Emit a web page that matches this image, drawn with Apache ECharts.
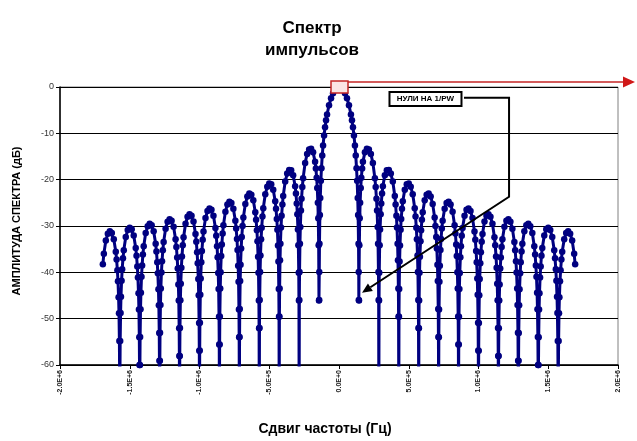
<!DOCTYPE html>
<html>
<head>
<meta charset="utf-8">
<script src="https://cdn.jsdelivr.net/npm/echarts@6/dist/echarts.min.js"></script>
<style>
html,body{margin:0;padding:0;background:#fff;}
#main{width:637px;height:441px;}
</style>
</head>
<body>
<div id="main"></div>
<script>
// ---- data ----
const xTickLabels = ['-2.0E+6','-1.5E+6','-1.0E+6','-5.0E+5','0.0E+0','5.0E+5','1.0E+6','1.5E+6','2.0E+6'];
const yTickLabels = ['-60','-50','-40','-30','-20','-10','0'];

// right half (0 Hz outward), frequency in kHz
const rightFreqKHz = [
0, 14.3, 28.6, 42.9, 57.1, 71.4, 85.7, 92.9, 100, 107.1, 114.3, 120, 125.7, 130, 134.3, 137.1, 140, 141.4, 142.1,
143.6, 145.8, 148.6, 151.5, 155.8, 160, 165.8, 171.5, 185.8, 200, 214.3, 228.6, 242.9, 257.2, 262.9, 268.6, 272.9, 277.2, 280, 282.9, 284.3, 285.7,
287.1, 288.6, 291.4, 294.3, 298.6, 302.8, 308.6, 314.3, 328.6, 342.8, 357.1, 371.4, 385.7, 400, 405.7, 411.4, 415.7, 420, 422.8, 425.7, 427.1, 428.6,
430, 431.5, 434.3, 437.2, 441.5, 445.7, 451.5, 457.2, 471.5, 485.7, 500, 514.3, 528.6, 542.9, 548.6, 554.3, 558.6, 562.9, 565.7, 568.6, 570, 571.4,
572.8, 574.3, 577.1, 580, 584.3, 588.5, 594.3, 600, 614.3, 628.5, 642.8, 657.1, 671.4, 685.7, 691.4, 697.1, 701.4, 705.7, 708.5, 711.4, 712.8, 714.3,
715.7, 717.2, 720, 722.9, 727.2, 731.4, 737.2, 742.9, 757.2, 771.4, 785.7, 800, 814.3, 828.6, 834.3, 840, 844.3, 848.6, 851.4, 854.3, 855.7, 857.1,
858.5, 860, 862.8, 865.7, 870, 874.2, 880, 885.7, 900, 914.2, 928.5, 942.8, 957.1, 971.4, 977.1, 982.8, 987.1, 991.4, 994.2, 997.1, 998.5, 1000,
1001.4, 1002.9, 1005.7, 1008.6, 1012.9, 1017.1, 1022.9, 1028.6, 1042.9, 1057.1, 1071.4, 1085.7, 1100, 1114.3, 1120, 1125.7, 1130, 1134.3, 1137.1, 1140, 1141.4, 1142.9,
1144.3, 1145.8, 1148.6, 1151.5, 1155.8, 1160, 1165.8, 1171.5, 1185.8, 1200, 1214.3, 1228.6, 1242.9, 1257.2, 1262.9, 1268.6, 1272.9, 1277.2, 1280, 1282.9, 1284.3, 1285.7,
1287.1, 1288.6, 1291.4, 1294.3, 1298.6, 1302.8, 1308.6, 1314.3, 1328.6, 1342.8, 1357.1, 1371.4, 1385.7, 1400, 1405.7, 1411.4, 1415.7, 1420, 1422.8, 1425.7, 1427.1, 1428.6,
1430, 1431.5, 1434.3, 1437.2, 1441.5, 1445.7, 1451.5, 1457.2, 1471.5, 1485.7, 1500, 1514.3, 1528.6, 1542.9, 1548.6, 1554.3, 1558.6, 1562.9, 1565.7, 1568.6, 1570, 1571.4,
1572.8, 1574.3, 1577.1, 1580, 1584.3, 1588.5, 1594.3, 1600, 1614.3, 1628.5, 1642.8, 1657.1, 1671.4, 1685.7, 1692.8
];
const rightLevelDb = [
0, -0.14, -0.58, -1.33, -2.42, -3.92, -5.94, -7.2, -8.69, -10.45, -12.62, -14.77, -17.52, -20.21, -23.95, -27.63, -33.81, -39.91, -45.97,
-46.07, -34.16, -28.32, -24.99, -21.78, -19.61, -17.57, -16.15, -14.06, -13.31, -13.47, -14.47, -16.39, -19.67, -21.58, -24.11, -26.65, -30.24, -33.83, -39.92, -45.98, -70,
-46.07, -40.09, -34.18, -30.76, -27.44, -25.15, -22.97, -21.41, -19.02, -17.99, -17.9, -18.68, -20.41, -23.51, -25.35, -27.81, -30.31, -33.85, -37.41, -43.47, -49.52, -70,
-49.57, -43.58, -37.64, -34.2, -30.83, -28.51, -26.28, -24.67, -22.15, -21.01, -20.82, -21.51, -23.15, -26.16, -27.97, -30.4, -32.88, -36.39, -39.94, -45.98, -52.02, -70,
-52.07, -46.07, -40.11, -36.65, -33.27, -30.92, -28.67, -27.03, -24.45, -23.25, -23.01, -23.64, -25.23, -28.19, -29.98, -32.39, -34.86, -38.36, -41.89, -47.93, -53.97, -70,
-54, -48, -42.03, -38.57, -35.17, -32.81, -30.54, -28.88, -26.27, -25.03, -24.75, -25.35, -26.9, -29.83, -31.61, -34.01, -36.47, -39.96, -43.49, -49.52, -55.55, -70,
-55.58, -49.58, -43.6, -40.13, -36.73, -34.36, -32.08, -30.41, -27.77, -26.51, -26.2, -26.77, -28.3, -31.21, -32.98, -35.37, -37.82, -41.31, -44.84, -50.86, -56.89, -70,
-56.92, -50.91, -44.94, -41.46, -38.05, -35.67, -33.38, -31.71, -29.05, -27.77, -27.44, -28, -29.51, -32.41, -34.17, -36.56, -39, -42.48, -46, -52.03, -58.06, -70,
-58.08, -52.07, -46.09, -42.61, -39.19, -36.81, -34.52, -32.84, -30.17, -28.87, -28.53, -29.07, -30.57, -33.45, -35.21, -37.59, -40.03, -43.51, -47.03, -53.05, -59.08, -70,
-59.1, -53.09, -47.11, -43.63, -40.21, -37.82, -35.52, -33.84, -31.15, -29.85, -29.5, -30.03, -31.52, -34.39, -36.14, -38.52, -40.96, -44.43, -47.95, -53.97, -59.99, -70,
-60.01, -54, -48.02, -44.54, -41.11, -38.73, -36.42, -34.74, -32.04, -30.72, -30.37, -30.89, -32.37, -35.23, -36.98, -39.36, -41.79, -45.26, -48.78, -54.8, -60.82, -70,
-60.84, -54.83, -48.84, -45.36, -41.93, -39.55, -37.24, -35.55, -32.85, -31.52, -31.16, -31.67, -33.15, -36, -38.28
];

// left half (0 Hz outward), frequency in kHz
const leftFreqKHz = [
-14.3, -28.6, -42.9, -57.1, -71.4, -85.7, -92.9, -100, -107.1, -114.3, -120, -125.7, -130, -134.3, -137.1, -140, -141.4, -142.1,
-143.6, -145.8, -148.6, -151.5, -155.8, -160, -165.8, -171.5, -185.8, -200, -214.3, -228.6, -242.9, -257.2, -262.9, -268.6, -272.9, -277.2, -280, -282.9, -284.3, -285.7,
-287.1, -288.6, -291.4, -294.3, -298.6, -302.8, -308.6, -314.3, -328.6, -342.8, -357.1, -371.4, -385.7, -400, -405.7, -411.4, -415.7, -420, -422.8, -425.7, -427.1, -428.6,
-430, -431.5, -434.3, -437.2, -441.5, -445.7, -451.5, -457.2, -471.5, -485.7, -500, -514.3, -528.6, -542.9, -548.6, -554.3, -558.6, -562.9, -565.7, -568.6, -570, -571.4,
-572.8, -574.3, -577.1, -580, -584.3, -588.5, -594.3, -600, -614.3, -628.5, -642.8, -657.1, -671.4, -685.7, -691.4, -697.1, -701.4, -705.7, -708.5, -711.4, -712.8, -714.3,
-715.7, -717.2, -720, -722.9, -727.2, -731.4, -737.2, -742.9, -757.2, -771.4, -785.7, -800, -814.3, -828.6, -834.3, -840, -844.3, -848.6, -851.4, -854.3, -855.7, -857.1,
-858.5, -860, -862.8, -865.7, -870, -874.2, -880, -885.7, -900, -914.2, -928.5, -942.8, -957.1, -971.4, -977.1, -982.8, -987.1, -991.4, -994.2, -997.1, -998.5, -1000,
-1001.4, -1002.9, -1005.7, -1008.6, -1012.9, -1017.1, -1022.9, -1028.6, -1042.9, -1057.1, -1071.4, -1085.7, -1100, -1114.3, -1120, -1125.7, -1130, -1134.3, -1137.1, -1140, -1141.4, -1142.9,
-1144.3, -1145.8, -1148.6, -1151.5, -1155.8, -1160, -1165.8, -1171.5, -1185.8, -1200, -1214.3, -1228.6, -1242.9, -1257.2, -1262.9, -1268.6, -1272.9, -1277.2, -1280, -1282.9, -1284.3, -1285.7,
-1287.1, -1288.6, -1291.4, -1294.3, -1298.6, -1302.8, -1308.6, -1314.3, -1328.6, -1342.8, -1357.1, -1371.4, -1385.7, -1400, -1405.7, -1411.4, -1415.7, -1420, -1422.8, -1425.7, -1427.1, -1428.6,
-1430, -1431.5, -1434.3, -1437.2, -1441.5, -1445.7, -1451.5, -1457.2, -1471.5, -1485.7, -1500, -1514.3, -1528.6, -1542.9, -1548.6, -1554.3, -1558.6, -1562.9, -1565.7, -1568.6, -1570, -1571.4,
-1572.8, -1574.3, -1577.1, -1580, -1584.3, -1588.5, -1594.3, -1600, -1614.3, -1628.5, -1642.8, -1657.1, -1671.4, -1685.7, -1692.8
];
const leftLevelDb = [
-0.14, -0.58, -1.33, -2.42, -3.92, -5.94, -7.2, -8.69, -10.45, -12.62, -14.77, -17.52, -20.21, -23.95, -27.63, -33.81, -39.91, -45.97,
-46.07, -34.16, -28.32, -24.99, -21.78, -19.61, -17.57, -16.15, -14.06, -13.31, -13.47, -14.47, -16.39, -19.67, -21.58, -24.11, -26.65, -30.24, -33.83, -39.92, -45.98, -70,
-46.07, -40.09, -34.18, -30.76, -27.44, -25.15, -22.97, -21.41, -19.02, -17.99, -17.9, -18.68, -20.41, -23.51, -25.35, -27.81, -30.31, -33.85, -37.41, -43.47, -49.52, -70,
-49.57, -43.58, -37.64, -34.2, -30.83, -28.51, -26.28, -24.67, -22.15, -21.01, -20.82, -21.51, -23.15, -26.16, -27.97, -30.4, -32.88, -36.39, -39.94, -45.98, -52.02, -70,
-52.07, -46.07, -40.11, -36.65, -33.27, -30.92, -28.67, -27.03, -24.45, -23.25, -23.01, -23.64, -25.23, -28.19, -29.98, -32.39, -34.86, -38.36, -41.89, -47.93, -53.97, -70,
-54, -48, -42.03, -38.57, -35.17, -32.81, -30.54, -28.88, -26.27, -25.03, -24.75, -25.35, -26.9, -29.83, -31.61, -34.01, -36.47, -39.96, -43.49, -49.52, -55.55, -70,
-55.58, -49.58, -43.6, -40.13, -36.73, -34.36, -32.08, -30.41, -27.77, -26.51, -26.2, -26.77, -28.3, -31.21, -32.98, -35.37, -37.82, -41.31, -44.84, -50.86, -56.89, -70,
-56.92, -50.91, -44.94, -41.46, -38.05, -35.67, -33.38, -31.71, -29.05, -27.77, -27.44, -28, -29.51, -32.41, -34.17, -36.56, -39, -42.48, -46, -52.03, -58.06, -70,
-58.08, -52.07, -46.09, -42.61, -39.19, -36.81, -34.52, -32.84, -30.17, -28.87, -28.53, -29.07, -30.57, -33.45, -35.21, -37.59, -40.03, -43.51, -47.03, -53.05, -59.08, -70,
-59.1, -53.09, -47.11, -43.63, -40.21, -37.82, -35.52, -33.84, -31.15, -29.85, -29.5, -30.03, -31.52, -34.39, -36.14, -38.52, -40.96, -44.43, -47.95, -53.97, -59.99, -70,
-60.01, -54, -48.02, -44.54, -41.11, -38.73, -36.42, -34.74, -32.04, -30.72, -30.37, -30.89, -32.37, -35.23, -36.98, -39.36, -41.79, -45.26, -48.78, -54.8, -60.82, -70,
-60.84, -54.83, -48.84, -45.36, -41.93, -39.55, -37.24, -35.55, -32.85, -31.52, -31.16, -31.67, -33.15, -36, -38.28
];

const titleText = 'Спектр\nимпульсов';
const xName = 'Сдвиг частоты (Гц)';
const yName = 'АМПЛИТУДА СПЕКТРА (дБ)';
const noteText = 'НУЛИ НА 1/PW';

// ---- build ----
const pts = [];
for (let i = leftFreqKHz.length - 1; i >= 0; i--) pts.push([leftFreqKHz[i] * 1000, leftLevelDb[i]]);
for (let i = 0; i < rightFreqKHz.length; i++) pts.push([rightFreqKHz[i] * 1000, rightLevelDb[i]]);

const FONT = '"Liberation Sans", Arial, sans-serif';
const NAVY = '#000080';

const chart = echarts.init(document.getElementById('main'), null, {renderer: 'canvas'});
chart.setOption({
  animation: false,
  backgroundColor: '#ffffff',
  title: {
    text: titleText,
    left: 307, top: 12, textAlign: 'center',
    textStyle: {fontFamily: FONT, fontSize: 17, fontWeight: 'bold', color: '#000', lineHeight: 22}
  },
  grid: {left: 60, right: 19, top: 87, bottom: 73, show: true, borderColor: '#808080', borderWidth: 1, backgroundColor: 'transparent'},
  xAxis: {
    type: 'value', min: -2000000, max: 2000000, interval: 500000,
    name: xName, nameLocation: 'middle', nameGap: 57,
    nameTextStyle: {fontFamily: FONT, fontSize: 14, fontWeight: 'bold', color: '#000', padding: [0, 28, 0, 0]},
    axisLine: {onZero: false, lineStyle: {color: '#000', width: 1.5}},
    axisTick: {show: true, length: 4, lineStyle: {color: '#000'}},
    splitLine: {show: false},
    axisLabel: {
      rotate: 90, fontFamily: FONT, fontSize: 7, fontWeight: 'bold', color: '#222', margin: 5,
      formatter: function (v) {
        const idx = Math.round((v + 2000000) / 500000);
        return xTickLabels[idx] !== undefined ? xTickLabels[idx] : '';
      }
    }
  },
  yAxis: {
    type: 'value', min: -60, max: 0, interval: 10,
    name: yName, nameLocation: 'middle', nameGap: 38, nameRotate: 90,
    nameTextStyle: {fontFamily: FONT, fontSize: 11, fontWeight: 'bold', color: '#000', padding: [0, 0, 0, 10]},
    axisLine: {show: true, onZero: false, lineStyle: {color: '#000', width: 1.5}},
    axisTick: {show: true, length: 4, lineStyle: {color: '#000'}},
    splitLine: {show: true, lineStyle: {color: '#000', width: 1}},
    axisLabel: {
      fontFamily: FONT, fontSize: 9, color: '#333', margin: 6,
      formatter: function (v) {
        const idx = Math.round((v + 60) / 10);
        return yTickLabels[idx] !== undefined ? yTickLabels[idx] : '';
      }
    }
  },
  series: [{
    type: 'line',
    data: pts,
    clip: true,
    showAllSymbol: true,
    symbol: 'circle',
    symbolSize: 6.5,
    lineStyle: {color: NAVY, width: 3},
    itemStyle: {color: NAVY},
    z: 3
  }]
});

// ---- annotations anchored to data coordinates ----
function px(x, y) { return chart.convertToPixel({gridIndex: 0}, [x, y]); }
const W = chart.getWidth();
const origin = px(0, 0);
const boxC = px(620000, -2.6);
const a1 = px(896000, -2.3);
const a2 = px(1219000, -2.3);
const a3 = px(1219000, -23.7);
const a4 = px(165000, -44.4);
const dx = a4[0] - a3[0], dy = a4[1] - a3[1];
const len = Math.sqrt(dx * dx + dy * dy);
const ux = dx / len, uy = dy / len;
const hl = 10, hw = 4.5;
const base = [a4[0] - ux * hl, a4[1] - uy * hl];
const head = [[a4[0], a4[1]], [base[0] - uy * hw, base[1] + ux * hw], [base[0] + uy * hw, base[1] - ux * hw]];
const redY = origin[1] - 5;

chart.setOption({
  graphic: [
    {type: 'rect', z: 10, shape: {x: origin[0] - 8, y: origin[1] - 6, width: 17, height: 12},
      style: {fill: '#fbe3e3', stroke: '#c42424', lineWidth: 1.5}},
    {type: 'line', z: 10, shape: {x1: origin[0] + 9, y1: redY, x2: W - 14, y2: redY},
      style: {stroke: '#c42424', lineWidth: 1.5}},
    {type: 'polygon', z: 10, shape: {points: [[W - 2, redY], [W - 14, redY - 5.5], [W - 14, redY + 5.5]]},
      style: {fill: '#d01818'}},
    {type: 'polyline', z: 10, shape: {points: [a1, a2, a3, base]},
      style: {stroke: '#000', lineWidth: 2, fill: null}},
    {type: 'polygon', z: 10, shape: {points: head}, style: {fill: '#000'}},
    {type: 'rect', z: 10, shape: {x: boxC[0] - 36, y: boxC[1] - 7, width: 72, height: 14},
      style: {fill: '#fff', stroke: '#000', lineWidth: 2}},
    {type: 'text', z: 11, x: boxC[0], y: boxC[1],
      style: {text: noteText, fill: '#000', font: 'bold 8px ' + FONT, align: 'center', verticalAlign: 'middle'}}
  ]
});
</script>
</body>
</html>
